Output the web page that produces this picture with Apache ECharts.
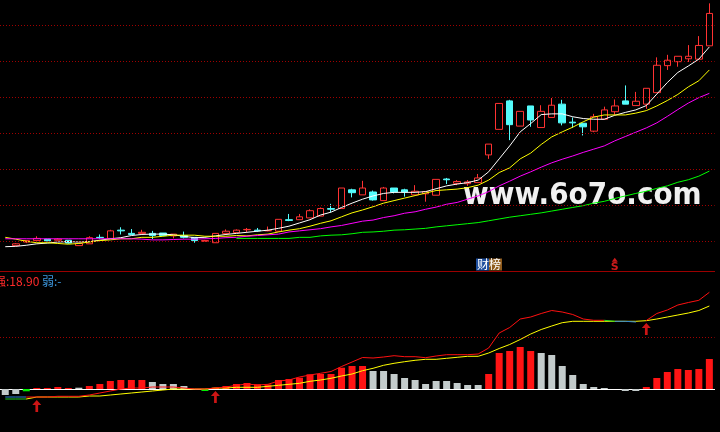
<!DOCTYPE html>
<html><head><meta charset="utf-8">
<script src="https://cdn.jsdelivr.net/npm/echarts@6/dist/echarts.min.js"></script>
<style>html,body{margin:0;padding:0;background:#000;}#c{width:720px;height:432px;}</style>
</head><body><div id="c"></div>
<script>
// slot 0 is the day before the first visible candle (only averages/indicator reach into view)
const categories = Array.from({length: 68}, (_, k) => 'D' + k);

// candles: [open, close, low, high]
const candles = ['-',
 [9.88,9.93,9.87,9.95],[9.98,10.02,9.95,10.03],[10.02,10.08,10.02,10.14],[10.06,10.01,10.01,10.06],
 [10.03,10.06,10.03,10.09],[10.03,9.95,9.93,10.03],[9.88,9.94,9.88,9.94],[9.93,10.10,9.93,10.14],
 [10.11,10.10,10.06,10.19],[10.08,10.29,10.08,10.32],[10.31,10.29,10.19,10.39],[10.22,10.19,10.19,10.34],
 [10.22,10.25,10.22,10.32],[10.22,10.16,10.06,10.29],[10.23,10.16,10.16,10.23],[10.15,10.20,10.08,10.20],
 [10.16,10.11,10.08,10.27],[10.11,10.02,9.96,10.11],[10.00,10.02,10.00,10.04],[9.96,10.22,9.96,10.22],
 [10.22,10.28,10.22,10.33],[10.24,10.31,10.24,10.33],[10.32,10.33,10.26,10.37],[10.31,10.29,10.26,10.37],
 [10.29,10.30,10.28,10.41],[10.28,10.61,10.26,10.61],[10.60,10.58,10.56,10.76],[10.60,10.68,10.60,10.76],
 [10.65,10.85,10.65,10.89],[10.70,10.91,10.70,10.94],[10.91,10.89,10.81,11.04],[10.91,11.48,10.90,11.48],
 [11.43,11.35,11.22,11.46],[11.29,11.48,11.29,11.68],[11.37,11.15,11.13,11.41],[11.13,11.48,11.13,11.51],
 [11.48,11.37,11.33,11.48],[11.43,11.37,11.24,11.46],[11.29,11.39,11.29,11.56],[11.32,11.38,11.10,11.38],
 [11.28,11.72,11.28,11.72],[11.73,11.71,11.59,11.76],[11.61,11.66,11.56,11.70],[11.60,11.65,11.54,11.70],
 [11.63,11.76,11.63,11.87],[12.40,12.70,12.29,12.70],[13.11,13.83,13.11,13.83],[13.90,13.24,12.81,13.93],
 [13.20,13.61,13.20,13.61],[13.76,13.37,13.18,13.76],[13.16,13.61,13.16,13.78],[13.44,13.78,13.44,13.98],
 [13.81,13.29,13.22,13.93],[13.31,13.29,13.15,13.44],[13.28,13.18,12.94,13.28],[13.06,13.46,13.03,13.54],
 [13.39,13.65,13.39,13.74],[13.60,13.76,13.51,13.94],[13.90,13.81,13.81,14.33],[13.77,13.89,13.77,14.15],
 [13.81,14.25,13.68,14.25],[14.13,14.89,14.13,15.11],[14.88,15.03,14.76,15.18],[14.99,15.14,14.85,15.14],
 [15.07,15.14,14.98,15.45],[15.06,15.44,15.06,15.70],[15.43,16.33,15.43,16.61]
];

const ma5 = [9.85,9.86,9.89,9.93,9.95,9.98,9.99,9.98,9.99,10.03,10.07,
 10.10,10.16,10.19,10.20,10.20,10.18,10.14,10.10,10.11,10.15,
 10.19,10.22,10.25,10.28,10.31,10.36,10.42,10.51,10.60,10.73,
 10.81,10.94,11.06,11.17,11.26,11.33,11.36,11.36,11.36,11.38,
 11.46,11.54,11.59,11.63,11.70,11.93,12.29,12.65,13.04,13.27,
 13.52,13.54,13.54,13.46,13.41,13.39,13.39,13.50,13.58,13.65,
 13.77,14.09,14.41,14.69,14.87,15.06,15.40];
const ma10 = [10.11,10.06,10.00,9.96,9.96,9.94,9.92,9.94,9.98,10.02,10.04,
 10.07,10.07,10.11,10.11,10.14,10.17,10.17,10.17,10.14,10.14,
 10.14,10.16,10.15,10.18,10.20,10.26,10.31,10.35,10.42,10.50,
 10.57,10.68,10.79,10.87,10.96,11.06,11.13,11.20,11.27,11.34,
 11.41,11.43,11.45,11.49,11.56,11.70,11.91,12.04,12.29,12.45,
 12.69,12.90,13.04,13.17,13.32,13.45,13.51,13.51,13.51,13.56,
 13.63,13.76,13.91,14.08,14.29,14.46,14.76];
const ma20 = [10.07,10.07,10.07,10.07,10.07,10.07,10.07,10.07,10.07,10.07,10.07,
 10.07,10.07,10.06,10.04,10.04,10.05,10.06,10.06,10.07,10.08,
 10.10,10.11,10.14,10.16,10.18,10.20,10.26,10.29,10.32,10.35,
 10.40,10.44,10.50,10.56,10.59,10.66,10.71,10.78,10.82,10.89,
 10.95,11.03,11.08,11.17,11.26,11.38,11.54,11.67,11.81,11.93,
 12.06,12.18,12.28,12.37,12.47,12.56,12.65,12.79,12.91,13.03,
 13.15,13.29,13.47,13.66,13.84,13.99,14.11];
const ma60 = [null,null,null,null,null,null,null,null,null,null,null,
 null,null,null,null,null,null,null,null,null,null,
 null,10.08,10.08,10.08,10.08,10.08,10.08,10.11,10.11,10.15,
 10.17,10.18,10.21,10.25,10.26,10.28,10.31,10.32,10.34,10.36,
 10.40,10.43,10.46,10.49,10.52,10.57,10.62,10.67,10.71,10.75,
 10.79,10.84,10.89,10.94,10.99,11.06,11.11,11.19,11.26,11.33,
 11.39,11.47,11.54,11.64,11.71,11.81,11.95];
const priceGrid = [10, 11, 12, 13, 14, 15, 16];

// lower indicator
const histo = [-6,-5,-2.3,1,1,2,1,1.3,3,5,8,
 9,9,9,7,5,5,3,0,-2,1.3,
 3,5,6,4.7,4.5,9,10,11.3,14.7,15,
 15,21.3,23,23,18,18,15,11,9,5,
 8,8,6,4,4,15,36,38,42,38,
 36,34,23,14,5,2,1,0,-2,-2,
 2,11,17,20,19,20,30];
const histoKind = ['n','n','g','r','r','r','r','n','r','r','r',
 'r','r','r','n','n','n','n','r','g','r',
 'r','r','r','r','r','r','r','r','r','r',
 'r','r','r','r','n','n','n','n','n','n',
 'n','n','n','n','n','r','r','r','r','r',
 'n','n','n','n','n','n','n','n','n','n',
 'r','r','r','r','r','r','r'];
const strong = [-8,-8,-8,-8,-8,-7.3,-7.3,-7.3,-6,-4,-2,
 0,1,1,2,2,2,1,0,0,1,
 2,3.7,5,4,4.7,8,9,12,14,15.7,
 17.5,22.5,27,31.5,31,32,33.3,32.3,32.3,31.3,
 33,34.3,34.3,34.3,35,41,56,61.5,70,72,
 75.5,78.5,77,74.5,70,68.7,68.7,67.7,67.7,67,
 68.5,75.5,79,84,86.5,88.7,96.7];
const weak = [-10,-10,-10,-8,-8,-8,-8,-8,-7,-7,-6,
 -5,-4,-3,-2,-1,0,0,0,0,1,
 1,1.7,1.7,1.7,2.7,3.7,4.7,5.7,7.7,9,
 10.7,13,15,18.3,20.7,23.7,25.7,27.3,28.7,29.7,
 29.7,30.7,31.7,32.7,32.7,36,40.5,44.5,49.5,55,
 59.5,63,66.3,67.7,67.7,67.7,67.7,67.7,67.7,67.7,
 68.3,70,72,74,76,78.5,83];
const buySignals = [[3, -17], [20, -8], [61, 60]];
const sellSignals = [[58, 9.49]];
const indicatorLevel = [51.7];

const kindColor = {r: '#ff1414', n: '#c3cbcb', g: '#00ee00'};
const gridLeft = -5.89, gridRight = 5.39;
const chart = echarts.init(document.getElementById('c'), null, {renderer: 'canvas'});
const dotted = {color: '#a00000', type: [1, 2], width: 1};

chart.setOption({
  animation: false,
  backgroundColor: '#000000',
  grid: [
    {left: gridLeft, right: gridRight, top: 0, height: 271},
    {left: gridLeft, right: gridRight, top: 271, height: 161}
  ],
  xAxis: [
    {type: 'category', data: categories, gridIndex: 0, boundaryGap: true,
     axisLine: {show: true, onZero: false, lineStyle: {color: '#9b0000', width: 1}},
     axisTick: {show: false}, axisLabel: {show: false}, splitLine: {show: false}},
    {type: 'category', data: categories, gridIndex: 1, boundaryGap: true,
     axisLine: {show: true, onZero: true, lineStyle: {color: '#ffffff', width: 1}},
     axisTick: {show: false}, axisLabel: {show: false}, splitLine: {show: false}}
  ],
  yAxis: [
    {type: 'value', gridIndex: 0, min: 9.175, max: 16.703, show: false, splitLine: {show: false}},
    {type: 'value', gridIndex: 1, min: -43, max: 118, show: false, splitLine: {show: false}}
  ],
  visualMap: [
    {type: 'piecewise', show: false, seriesIndex: 8, dimension: 0,
     pieces: [{lte: 2.3, color: '#22cc22'}, {gt: 2.3, lte: 80, color: '#ffff00'}, {gt: 80, color: '#ffff00'}]},
    {type: 'piecewise', show: false, seriesIndex: 9, dimension: 0,
     pieces: [
       {lte: 2, color: '#2f86d6'},
       {gt: 2, lte: 57, color: '#ff1010'},
       {gt: 57, lte: 57.6, color: '#22dd22'},
       {gt: 57.6, lte: 58, color: 'rgba(0,0,0,0)'},
       {gt: 58, lte: 59.6, color: '#2f86d6'},
       {gt: 59.6, lte: 60.3, color: '#22dd22'},
       {gt: 60.3, lte: 61, color: 'rgba(0,0,0,0)'},
       {gt: 61, color: '#ff1010'}
     ]}
  ],
  series: [
    {type: 'line', xAxisIndex: 0, yAxisIndex: 0, data: [], silent: true, z: 1,
     markLine: {silent: true, symbol: 'none', label: {show: false}, lineStyle: dotted,
       data: priceGrid.map(v => ({yAxis: v}))}},
    {type: 'candlestick', xAxisIndex: 0, yAxisIndex: 0, data: candles, barWidth: 7, z: 2,
     itemStyle: {color: '#000000', color0: '#54fcfc', borderColor: '#ff3232', borderColor0: '#54fcfc', borderWidth: 1}},
    {type: 'line', xAxisIndex: 0, yAxisIndex: 0, data: ma5, showSymbol: false, z: 3,
     lineStyle: {color: '#ffffff', width: 1}},
    {type: 'line', xAxisIndex: 0, yAxisIndex: 0, data: ma10, showSymbol: false, z: 3,
     lineStyle: {color: '#ffff00', width: 1}},
    {type: 'line', xAxisIndex: 0, yAxisIndex: 0, data: ma20, showSymbol: false, z: 3,
     lineStyle: {color: '#ff00ff', width: 1}},
    {type: 'line', xAxisIndex: 0, yAxisIndex: 0, data: ma60, showSymbol: false, z: 3,
     lineStyle: {color: '#00ff00', width: 1}},
    {type: 'scatter', xAxisIndex: 0, yAxisIndex: 0, data: sellSignals, symbol: 'triangle', symbolSize: [6, 4], z: 4,
     itemStyle: {color: '#ff2020'},
     label: {show: true, position: 'bottom', distance: 0, formatter: 'S', color: '#ff2020',
       fontSize: 11, fontWeight: 'bold', fontFamily: 'DejaVu Sans'}},
    {type: 'bar', xAxisIndex: 1, yAxisIndex: 1, data: histo, barWidth: 7, z: 2,
     itemStyle: {color: p => kindColor[histoKind[p.dataIndex]]},
     markLine: {silent: true, symbol: 'none', label: {show: false}, lineStyle: dotted,
       data: indicatorLevel.map(v => ({yAxis: v}))}},
    {type: 'line', xAxisIndex: 1, yAxisIndex: 1, data: weak, showSymbol: false, z: 3,
     lineStyle: {width: 1}},
    {type: 'line', xAxisIndex: 1, yAxisIndex: 1, data: strong, showSymbol: false, z: 4,
     lineStyle: {width: 1}},
    {type: 'scatter', xAxisIndex: 1, yAxisIndex: 1, data: buySignals, z: 5,
     symbol: 'path://M5 0 L10 5 L6.5 5 L6.5 12 L3.5 12 L3.5 5 L0 5 Z', symbolSize: [9, 12],
     itemStyle: {color: '#ff1a1a'}}
  ],
  graphic: [
    {type: 'text', x: 463, y: 196, scaleX: 0.93, z: 1, silent: true,
     style: {text: 'www.6o7o.com', fill: '#f0f0f0', font: 'bold 30px "DejaVu Sans"', verticalAlign: 'middle'}},
    {type: 'text', x: 476, y: 258, z: 10, silent: true,
     style: {text: '{a|财}{b|榜}', font: '12px "Noto Sans CJK SC"',
       rich: {a: {fill: '#ffffff', backgroundColor: '#1f4f9e', fontSize: 12, fontFamily: 'Noto Sans CJK SC', lineHeight: 13, padding: [0, 0, 0, 1]},
              b: {fill: '#ffffff', backgroundColor: '#8e5a1c', fontSize: 12, fontFamily: 'Noto Sans CJK SC', lineHeight: 13, padding: [0, 1, 0, 0]}}}},
    {type: 'text', x: -6, y: 275, z: 10, silent: true,
     style: {text: '{r|强:18.90} {b|弱:-}', font: '12px "Noto Sans CJK SC"',
       rich: {r: {fill: '#ff2a2a', fontSize: 12, fontFamily: 'Noto Sans CJK SC'},
              b: {fill: '#3c96dc', fontSize: 12, fontFamily: 'Noto Sans CJK SC'}}}}
  ]
});
</script></body></html>
